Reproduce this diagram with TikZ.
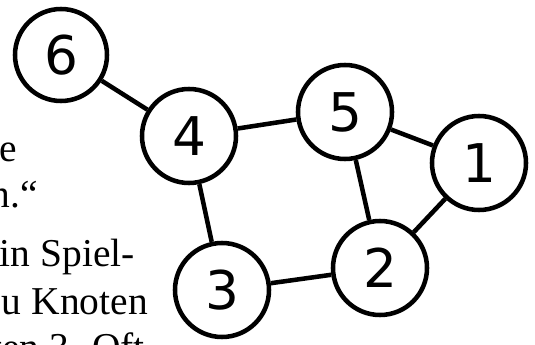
\documentclass[tikz,border=0pt]{standalone}
\usepackage{fontspec}
\setmainfont{Liberation Serif}
\newfontfamily\dejavu{DejaVu Sans}
\tikzset{
  vertex/.style={circle, draw, line width=3.4pt, minimum size=70.5pt, inner sep=0pt,
    font=\dejavu\fontsize{40}{40}\selectfont},
  edge/.style={line width=3.4pt},
  txt/.style={anchor=base east, inner sep=0pt, font=\fontsize{29.6}{35}\selectfont}
}
\begin{document}
\begin{tikzpicture}[x=0.75pt,y=-0.75pt]
\useasboundingbox (0,0) rectangle (535,345);
\node[vertex, minimum size=69pt] (n6) at (61,55) {6};
\node[vertex] (n4) at (189,136) {4};
\node[vertex] (n5) at (345,112) {5};
\node[vertex] (n1) at (479,163) {1};
\node[vertex] (n2) at (380,268) {2};
\node[vertex] (n3) at (222,290) {3};
\draw[edge] (n6) -- (n4);
\draw[edge] (n4) -- (n5);
\draw[edge] (n4) -- (n3);
\draw[edge] (n5) -- (n1);
\draw[edge] (n5) -- (n2);
\draw[edge] (n1) -- (n2);
\draw[edge] (n3) -- (n2);
\node[txt] (t1) at (17,162) {e};
\node[txt] (t2) at (38,208) {n.“};
\node[txt] (t3) at (135,267) {in Spiel-};
\node[txt] (t4) at (148,314) {u Knoten};
\node[txt] (t5) at (145,360) {ten 3. Oft};
\end{tikzpicture}
\end{document}
